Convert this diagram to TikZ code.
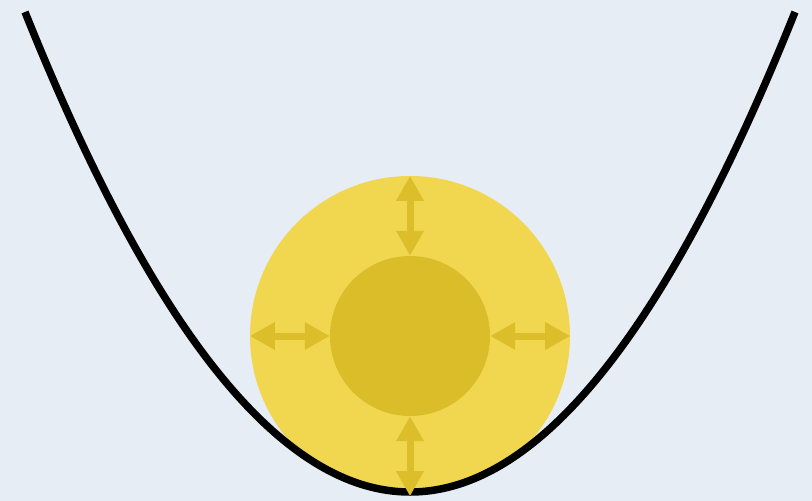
\documentclass[tikz,border=0pt]{standalone}
\usetikzlibrary{arrows.meta}
\definecolor{bg}{HTML}{E7EDF4}
\definecolor{outery}{HTML}{F1D64F}
\definecolor{innery}{HTML}{DBBD2A}
\definecolor{arrowy}{HTML}{DCBE2B}
\tikzset{
  dblarrow/.style={draw=arrowy, line width=7pt, {Triangle[width=26pt,length=25pt]}-{Triangle[width=26pt,length=25pt]}},
  curve/.style={draw=black, line width=7.5pt}
}
\begin{document}
\begin{tikzpicture}[x=1pt,y=-1pt]
  \fill[bg] (0,0) rectangle (812,501);
  \useasboundingbox (0,0) rectangle (812,501);
  \coordinate (pl) at (25,12);
  \coordinate (pr) at (795,12);
  % outer circle, kept inside the valley
  \begin{scope}
    \clip (pl) .. controls (281.7,652) and (538.3,652) .. (pr) -- cycle;
    \node[circle, fill=outery, minimum size=320pt, inner sep=0pt] (outer) at (410,336) {};
  \end{scope}
  % parabola
  \draw[curve] (pl) .. controls (281.7,652) and (538.3,652) .. (pr);
  % inner circle
  \node[circle, fill=innery, minimum size=160pt, inner sep=0pt] (inner) at (410,336) {};
  % arrows
  \draw[dblarrow] (outer.north) -- (inner.north);
  \draw[dblarrow] (outer.south) -- (inner.south);
  \draw[dblarrow] (outer.west) -- (inner.west);
  \draw[dblarrow] (outer.east) -- (inner.east);
\end{tikzpicture}
\end{document}
